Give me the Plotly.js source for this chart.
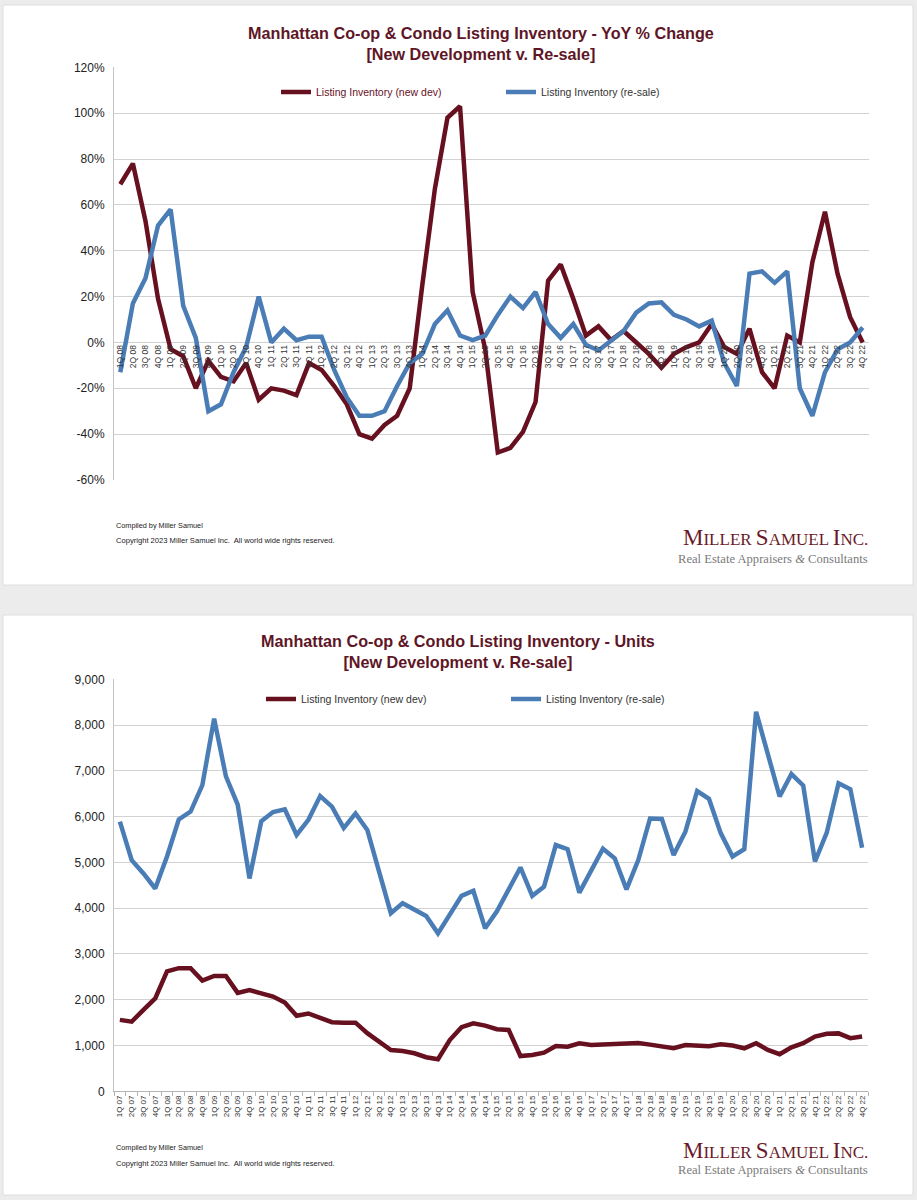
<!DOCTYPE html>
<html>
<head>
<meta charset="utf-8">
<script src="https://cdn.plot.ly/plotly-3.0.1.min.js"></script>
<style>
html,body{margin:0;padding:0;background:#ececec;overflow:hidden;}
#chart{width:917px;height:1200px;}
</style>
</head>
<body>
<div id="chart"></div>
<script>
// ---- Top chart: YoY % change, 1Q 08 .. 4Q 22 ----
const yoyQuarters = [
 "1Q 08","2Q 08","3Q 08","4Q 08","1Q 09","2Q 09","3Q 09","4Q 09","1Q 10","2Q 10","3Q 10","4Q 10",
 "1Q 11","2Q 11","3Q 11","4Q 11","1Q 12","2Q 12","3Q 12","4Q 12","1Q 13","2Q 13","3Q 13","4Q 13",
 "1Q 14","2Q 14","3Q 14","4Q 14","1Q 15","2Q 15","3Q 15","4Q 15","1Q 16","2Q 16","3Q 16","4Q 16",
 "1Q 17","2Q 17","3Q 17","4Q 17","1Q 18","2Q 18","3Q 18","4Q 18","1Q 19","2Q 19","3Q 19","4Q 19",
 "1Q 20","2Q 20","3Q 20","4Q 20","1Q 21","2Q 21","3Q 21","4Q 21","1Q 22","2Q 22","3Q 22","4Q 22"
];
const yoyNewDev = [
 69, 78, 53, 19, -3, -6, -20, -8, -15, -17, -9, -25,
 -20, -21, -23, -9, -12, -19, -27, -40, -42, -36, -32, -20,
 25, 67, 98, 103, 22, -3, -48, -46, -39, -26, 27, 34,
 19, 3, 7, 1, 5, 0, -5, -11, -5, -2, 0, 8,
 -2, -5, 6, -13, -20, 3, 0, 35, 57, 30, 11, 0
];
const yoyResale = [
 -13, 17, 28, 51, 58, 16, 2, -30, -27, -13, -2, 20,
 0, 6, 1, 2.5, 2.5, -12, -24, -32, -32, -30, -19, -9,
 -5, 8, 14, 3, 1, 3, 12, 20, 15, 22, 8, 2,
 8, -1, -3.5, 0.5, 5, 13, 17, 17.5, 12, 10, 7, 9.5,
 -9, -19, 30, 31, 26, 31, -20, -32, -13, -3, 0, 6.5
];
const yoyTickVals = [-60, -40, -20, 0, 20, 40, 60, 80, 100, 120];
const yoyTickText = ["-60%", "-40%", "-20%", "0%", "20%", "40%", "60%", "80%", "100%", "120%"];

// ---- Bottom chart: units, 1Q 07 .. 4Q 22 ----
const unitQuarters = [
 "1Q 07","2Q 07","3Q 07","4Q 07",
 "1Q 08","2Q 08","3Q 08","4Q 08","1Q 09","2Q 09","3Q 09","4Q 09","1Q 10","2Q 10","3Q 10","4Q 10",
 "1Q 11","2Q 11","3Q 11","4Q 11","1Q 12","2Q 12","3Q 12","4Q 12","1Q 13","2Q 13","3Q 13","4Q 13",
 "1Q 14","2Q 14","3Q 14","4Q 14","1Q 15","2Q 15","3Q 15","4Q 15","1Q 16","2Q 16","3Q 16","4Q 16",
 "1Q 17","2Q 17","3Q 17","4Q 17","1Q 18","2Q 18","3Q 18","4Q 18","1Q 19","2Q 19","3Q 19","4Q 19",
 "1Q 20","2Q 20","3Q 20","4Q 20","1Q 21","2Q 21","3Q 21","4Q 21","1Q 22","2Q 22","3Q 22","4Q 22"
];
const unitsNewDev = [
 1560, 1520, 1780, 2030, 2620, 2690, 2690, 2420, 2520, 2520, 2150, 2210, 2140, 2070, 1940, 1650,
 1700, 1610, 1510, 1500, 1500, 1270, 1085, 900, 880, 830, 745, 700, 1120, 1400, 1485, 1435,
 1355, 1340, 770, 795, 845, 990, 975, 1050, 1010, 1020, 1030, 1040, 1055, 1020, 975, 940,
 1010, 1005, 985, 1025, 1000, 940, 1050, 905, 810, 960, 1050, 1195, 1255, 1265, 1160, 1195
];
const unitsResale = [
 5890, 5050, 4760, 4430, 5130, 5940, 6110, 6690, 8140, 6880, 6260, 4650, 5900, 6100, 6160, 5600,
 5930, 6450, 6220, 5750, 6070, 5710, 4800, 3890, 4110, 3980, 3830, 3450, 3880, 4270, 4380, 3560,
 3930, 4410, 4890, 4270, 4470, 5380, 5290, 4340, 4840, 5300, 5090, 4410, 5050, 5960, 5950, 5160,
 5670, 6560, 6390, 5640, 5130, 5290, 8290, 7390, 6440, 6930, 6680, 5020, 5650, 6730, 6600, 5320
];
const unitTicks = [0, 1000, 2000, 3000, 4000, 5000, 6000, 7000, 8000, 9000];

const seriesNames = ["Listing Inventory (new dev)", "Listing Inventory (re-sale)"];
const titleTop = "Manhattan Co-op & Condo Listing Inventory - YoY % Change<br>[New Development v. Re-sale]";
const titleBottom = "Manhattan Co-op & Condo Listing Inventory - Units<br>[New Development v. Re-sale]";
const footer1 = "Compiled by Miller Samuel";
const footer2 = "Copyright 2023 Miller Samuel Inc.  All world wide rights reserved.";

// ---- styling ----
const W = 917, H = 1200;
const px = v => v / W;
const py = v => 1 - v / H;
const RED = "#67101f";
const BLUE = "#4a7db6";
const TITLE = "#5e1626";
const GRID = "#d2d2d2";
const FONT = "Liberation Sans, Arial, sans-serif";
const SERIF = "Liberation Serif, Times New Roman, serif";

const data = [
  {x: yoyQuarters, y: yoyNewDev, name: '<span style="color:#67101f">' + seriesNames[0] + '</span>',
   type: 'scatter', mode: 'lines', xaxis: 'x', yaxis: 'y', legend: 'legend',
   line: {color: RED, width: 4.5}},
  {x: yoyQuarters, y: yoyResale, name: seriesNames[1],
   type: 'scatter', mode: 'lines', xaxis: 'x', yaxis: 'y', legend: 'legend',
   line: {color: BLUE, width: 4.5}},
  {x: unitQuarters, y: unitsNewDev, name: seriesNames[0],
   type: 'scatter', mode: 'lines', xaxis: 'x2', yaxis: 'y2', legend: 'legend2',
   line: {color: RED, width: 4.5}},
  {x: unitQuarters, y: unitsResale, name: seriesNames[1],
   type: 'scatter', mode: 'lines', xaxis: 'x2', yaxis: 'y2', legend: 'legend2',
   line: {color: BLUE, width: 4.5}}
];

const yTopDomain = [py(480), py(67.3)];
const zeroPos = yTopDomain[0] + (yTopDomain[1] - yTopDomain[0]) * (60 / 180);

const legendCommon = {
  orientation: 'h', xanchor: 'left', yanchor: 'middle', bgcolor: 'rgba(0,0,0,0)',
  font: {family: FONT, size: 10.5, color: '#333'}, entrywidthmode: 'pixels', itemclick: false
};

const logo = '<span style="font-size:23px">M</span>ILLER <span style="font-size:23px">S</span>AMUEL <span style="font-size:23px">I</span>NC.';
const tagline = 'Real Estate Appraisers <i>&amp;</i> Consultants';

function footerAnns(y1, y2, yl1, yl2) {
  return [
    {text: footer1, x: px(114), y: py(y1), xref: 'paper', yref: 'paper', xanchor: 'left', yanchor: 'middle',
     showarrow: false, font: {family: FONT, size: 7.3, color: '#222'}},
    {text: footer2, x: px(114), y: py(y2), xref: 'paper', yref: 'paper', xanchor: 'left', yanchor: 'middle',
     showarrow: false, font: {family: FONT, size: 7.6, color: '#222'}},
    {text: logo, x: px(870), y: py(yl1), xref: 'paper', yref: 'paper', xanchor: 'right', yanchor: 'middle',
     showarrow: false, font: {family: SERIF, size: 17, color: '#6a1a28'}},
    {text: tagline, x: px(870), y: py(yl2), xref: 'paper', yref: 'paper', xanchor: 'right', yanchor: 'middle',
     showarrow: false, font: {family: SERIF, size: 12.6, color: '#7a7a7a'}}
  ];
}

const layout = {
  width: W, height: H,
  margin: {l: 0, r: 0, t: 0, b: 0},
  paper_bgcolor: '#ececec',
  plot_bgcolor: 'rgba(0,0,0,0)',
  font: {family: FONT, color: '#222'},
  showlegend: true,
  hovermode: false,
  xaxis: {
    domain: [px(114), px(869)], type: 'category', categoryorder: 'array', categoryarray: yoyQuarters,
    range: [-0.5, yoyQuarters.length - 0.5],
    anchor: 'free', position: zeroPos, tickangle: -90,
    tickfont: {family: FONT, size: 8.5, color: '#333'},
    showgrid: false, showline: false, zeroline: false, ticks: '', fixedrange: true
  },
  yaxis: {
    domain: yTopDomain, anchor: 'x', range: [-60, 120], tickmode: 'array', tickvals: yoyTickVals, ticktext: yoyTickText,
    showgrid: true, gridcolor: GRID, gridwidth: 1, zeroline: false,
    showline: true, linecolor: '#c4c4c4', linewidth: 1, ticks: '',
    tickfont: {family: FONT, size: 12, color: '#222'}, ticklabelstandoff: 6, fixedrange: true
  },
  xaxis2: {
    domain: [px(114), px(868)], type: 'category', categoryorder: 'array', categoryarray: unitQuarters,
    range: [-0.5, unitQuarters.length - 0.5],
    anchor: 'y2', tickangle: -90,
    tickfont: {family: FONT, size: 8, color: '#333'},
    showgrid: false, showline: true, linecolor: '#b4b4b4', linewidth: 1, zeroline: false,
    ticks: 'outside', ticklen: 4, tickcolor: '#b4b4b4', tickson: 'boundaries', fixedrange: true
  },
  yaxis2: {
    domain: [py(1091.3), py(679.3)], anchor: 'x2', range: [0, 9000], tickvals: unitTicks, tickformat: ',d',
    showgrid: true, gridcolor: GRID, gridwidth: 1, zeroline: false,
    showline: true, linecolor: '#c4c4c4', linewidth: 1, ticks: '',
    tickfont: {family: FONT, size: 12, color: '#222'}, ticklabelstandoff: 6, fixedrange: true
  },
  legend: Object.assign({}, legendCommon, {x: px(276), y: py(92), entrywidth: 180}),
  legend2: Object.assign({}, legendCommon, {x: px(261), y: py(699), entrywidth: 200}),
  shapes: [
    {type: 'rect', xref: 'paper', yref: 'paper', x0: px(3), x1: px(913), y0: py(585), y1: py(5),
     fillcolor: '#ffffff', line: {color: '#dedede', width: 1}, layer: 'below'},
    {type: 'rect', xref: 'paper', yref: 'paper', x0: px(3), x1: px(913), y0: py(1195), y1: py(615),
     fillcolor: '#ffffff', line: {color: '#dedede', width: 1}, layer: 'below'},
    {type: 'line', xref: 'x domain', yref: 'y', x0: 0, x1: 1, y0: 0, y1: 0,
     line: {color: '#9a9a9a', width: 1, dash: 'dot'}, layer: 'below'}
  ],
  annotations: [
    {text: titleTop, x: px(481), y: py(43.5), xref: 'paper', yref: 'paper', xanchor: 'center', yanchor: 'middle',
     showarrow: false, font: {family: FONT, size: 16.2, color: TITLE, weight: 'bold'}},
    {text: titleBottom, x: px(458), y: py(651.5), xref: 'paper', yref: 'paper', xanchor: 'center', yanchor: 'middle',
     showarrow: false, font: {family: FONT, size: 16.2, color: TITLE, weight: 'bold'}}
  ].concat(footerAnns(525, 540, 538, 559)).concat(footerAnns(1147, 1163, 1150, 1170))
};

Plotly.newPlot('chart', data, layout, {displayModeBar: false, staticPlot: true});
</script>
</body>
</html>
